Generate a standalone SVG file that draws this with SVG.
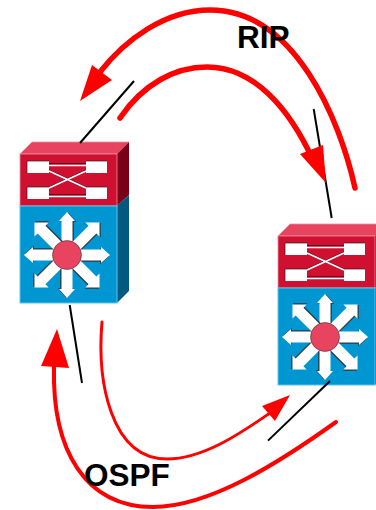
<svg xmlns="http://www.w3.org/2000/svg" width="376" height="510" viewBox="0 0 376 510">
<style>
.conn{fill:none;stroke:#000;stroke-width:2}
.curve{fill:none;stroke:#f00;stroke-linecap:round}
.head{fill:#f00}
.lbl{font-family:"Liberation Sans",Arial,sans-serif;font-weight:700;font-size:31.5px;fill:#000}
.w{fill:#fff}
.wl{fill:none;stroke:#fff;stroke-width:1.6}
</style>
<defs>
<g id="arm">
<path d="M-5.500 -12V-34H-8L0 -43L8 -34H5.500V-12Z" fill="#2a3a44" transform="translate(1.300 .8)"/>
<path d="M-5.500 -12V-34H-8L0 -43L8 -34H5.500V-12Z" class="w"/>
</g>
<g id="diag">
<path d="M-5.500 -12V-36H-10L0 -46L10 -36H5.500V-12Z" fill="#2a3a44" transform="translate(1.300 -.4) rotate(0)"/>
<path d="M-5.500 -12V-36H-10L0 -46L10 -36H5.500V-12Z" class="w"/>
</g>
<g id="sw">
<path d="M0 0L12 -12H109L97 0Z" fill="#e8445f" stroke="#f08ea0" stroke-width=".8"/>
<path d="M97 0L109 -12V41L97 52Z" fill="#7a0018"/>
<path d="M97 52L109 41V137L97 149Z" fill="#005a80"/>
<rect width="97" height="52" fill="#cf1030" stroke="#f08ea0" stroke-width=".8"/>
<rect y="52" width="97" height="97" fill="#0096d2" stroke="#5cc3ea" stroke-width="1"/>
<path d="M29 10.500H66M29 41.500H66M29 17L66 34M29 34L66 17" stroke="#5a1020" stroke-width="1" fill="none" transform="translate(0 -1)"/>
<path d="M29 11.500H66M29 42.500H66M29 17L66 34M29 34L66 17" class="wl"/>
<rect x="7" y="7" width="22" height="12" class="w"/>
<rect x="66" y="7" width="21" height="12" class="w"/>
<rect x="7" y="33" width="22" height="12" class="w"/>
<rect x="66" y="33" width="21" height="12" class="w"/>
<path d="M7 19V7H29M66 7H87M7 45V33H29M66 33H87" fill="none" stroke="#3a1018" stroke-width=".7"/>
<g transform="translate(47 101)">
<use href="#arm"/>
<use href="#diag" transform="rotate(45)"/>
<use href="#arm" transform="rotate(90)"/>
<use href="#diag" transform="rotate(135)"/>
<use href="#arm" transform="rotate(180)"/>
<use href="#diag" transform="rotate(225)"/>
<use href="#arm" transform="rotate(270)"/>
<use href="#diag" transform="rotate(315)"/>
<circle r="14.500" fill="#e8445f" stroke="#1c2a33" stroke-width=".5"/>
</g>
</g>
</defs>
<g id="switch-left" transform="translate(20 154)"><use href="#sw"/></g>
<g id="switch-right" transform="translate(278 236)"><use href="#sw"/></g>
<g id="connectors">
<path class="conn" d="M134 81L80 143"/>
<path class="conn" d="M313.700 109L331.700 218"/>
<path class="conn" d="M69.700 305L82 383"/>
<path class="conn" d="M330 381L268 440.600"/>
<path class="curve" stroke-width="5.500" d="M355 188C340 120 295 10 210 10C165 10 125 40 100 72"/>
<path class="head" d="M80 101L92 65L112 80Z"/>
<path class="curve" stroke-width="5.500" d="M120 118C143 84 175 67 207 67C255 67 290 110 313 160"/>
<path class="head" d="M326 183L300 154L323 145Z"/>
<path class="curve" stroke-width="4" d="M336 422C280 462 210 507 153 507C85 507 52 450 54 367"/>
<path class="head" d="M57 329L41 366L69 368Z"/>
<path class="curve" stroke-width="3" d="M102 322C97 380 110 459 167 459C205 459 245 430 270 413"/>
<path class="head" d="M290 395L262 406L275 421Z"/>
</g>
<text class="lbl" x="237" y="48">RIP</text>
<text class="lbl" x="84" y="486">OSPF</text>
</svg>
